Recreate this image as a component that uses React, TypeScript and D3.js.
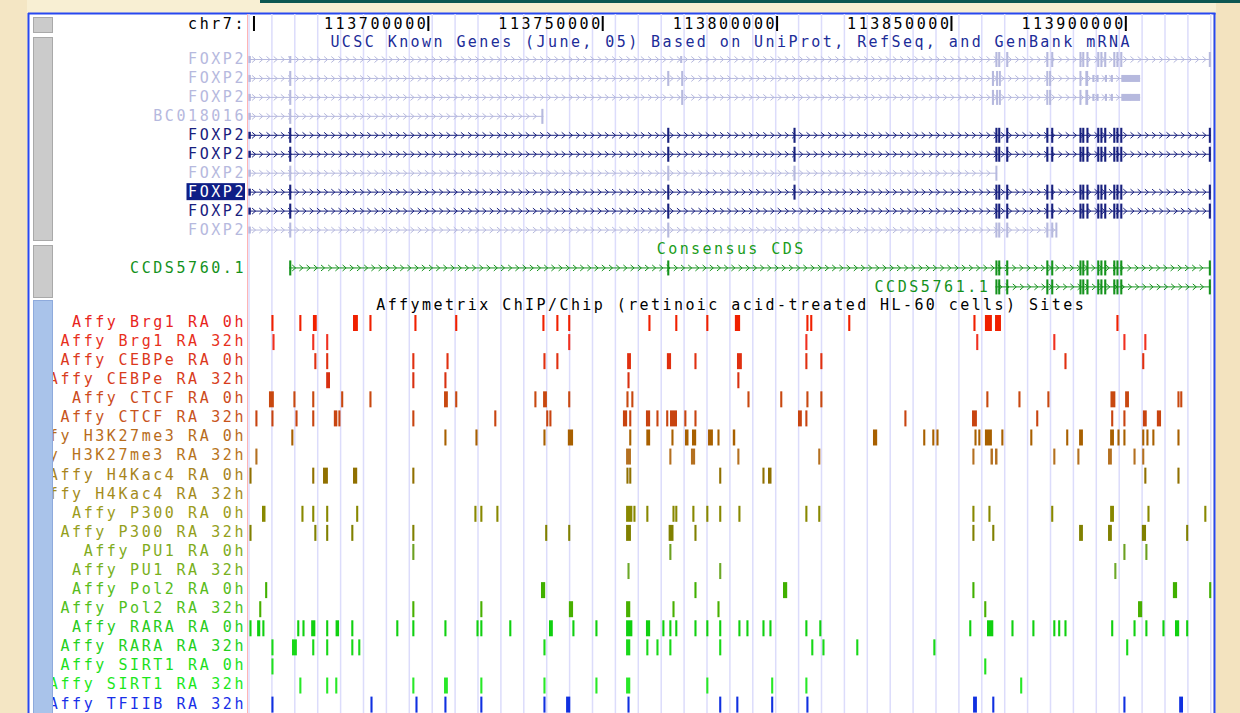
import * as d3 from 'd3';

type Span = [number, number];

// genome window (kb on chr7)
const chromName = 'chr7';
const windowKb: Span = [113648, 113925];

const geneTrackTitle = 'UCSC Known Genes (June, 05) Based on UniProt, RefSeq, and GenBank mRNA';
const ccdsTrackTitle = 'Consensus CDS';
const affyTrackTitle = 'Affymetrix ChIP/Chip (retinoic acid-treated HL-60 cells) Sites';

// FOXP2 exon pieces (kb)
const foxp2Utr5: Span = [113648.4, 113649.1];
const foxp2Ex2: Span = [113660.1, 113660.7];
const foxp2Ex3: Span = [113768.5, 113769.1];
const foxp2Ex4: Span = [113804.7, 113805.3];
const foxp2AltEx: Span = [113772.2, 113772.8];
const foxp2Cluster: Span[] = [
  [113862.6, 113863.2], [113863.4, 113864.0], [113865.7, 113866.3], [113877.2, 113877.8],
  [113878.6, 113879.2], [113886.7, 113887.3], [113887.5, 113888.1], [113888.7, 113889.3],
  [113891.8, 113892.4], [113892.7, 113893.3], [113893.8, 113894.4], [113896.4, 113897.0],
  [113897.3, 113897.9], [113898.4, 113899.0],
];
const foxp2AltCluster: Span[] = [
  [113861.6, 113862.2], [113862.8, 113863.2], [113863.6, 113864.0], [113877.2, 113877.6],
  [113878.0, 113878.4], [113886.7, 113887.1], [113888.4, 113889.2], [113890.4, 113891.0],
  [113891.6, 113892.2], [113894.0, 113894.6], [113895.7, 113896.3], [113898.7, 113904.1],
];
const foxp2LastEx: Span = [113923.8, 113924.4];

const knownGeneLabels = ['FOXP2', 'FOXP2', 'FOXP2', 'BC018016', 'FOXP2', 'FOXP2', 'FOXP2', 'FOXP2', 'FOXP2', 'FOXP2'];
const knownGeneFaded = [true, true, true, true, false, false, true, false, false, true];
const knownGeneSelected = 7;
const knownGeneTx: Span[] = [
  [113648.6, 113924.4], [113648.6, 113904.1], [113648.6, 113904.1], [113648.6, 113733.0],
  [113648.6, 113924.4], [113648.6, 113924.4], [113648.6, 113863.1], [113648.6, 113924.4],
  [113648.6, 113924.4], [113648.6, 113880.3],
];
const knownGeneCds: Span[] = [
  [113862.6, 113924.4], [113660.1, 113889.2], [113660.1, 113889.2], [113660.1, 113733.0],
  [113660.1, 113924.4], [113660.1, 113924.4], [113660.1, 113863.1], [113660.1, 113924.4],
  [113660.1, 113924.4], [113660.1, 113880.3],
];
const knownGeneExons: Span[][] = [
  [foxp2Utr5, foxp2Ex2, foxp2AltEx, ...foxp2Cluster, foxp2LastEx],
  [foxp2Utr5, foxp2Ex2, foxp2Ex3, [113772.5, 113773.0], ...foxp2AltCluster],
  [foxp2Utr5, foxp2Ex2, [113772.5, 113773.0], ...foxp2AltCluster],
  [foxp2Utr5, foxp2Ex2, [113732.4, 113733.0]],
  [foxp2Utr5, foxp2Ex2, foxp2Ex3, foxp2Ex4, ...foxp2Cluster, foxp2LastEx],
  [foxp2Utr5, foxp2Ex2, foxp2Ex3, foxp2Ex4, ...foxp2Cluster, foxp2LastEx],
  [foxp2Utr5, foxp2Ex2, foxp2Ex3, foxp2Ex4, [113862.6, 113863.1]],
  [foxp2Utr5, foxp2Ex2, foxp2Ex3, foxp2Ex4, ...foxp2Cluster, foxp2LastEx],
  [foxp2Utr5, foxp2Ex2, foxp2Ex3, ...foxp2Cluster, foxp2LastEx],
  [foxp2Utr5, foxp2Ex2, foxp2Ex3, ...foxp2Cluster.slice(0, 5), [113879.8, 113880.3]],
];

const ccdsLabels = ['CCDS5760.1', 'CCDS5761.1'];
const ccdsTx: Span[] = [[113660.1, 113924.4], [113862.6, 113924.4]];
const ccdsExons: Span[][] = [
  [foxp2Ex2, foxp2Ex3, ...foxp2Cluster, foxp2LastEx],
  [...foxp2Cluster, foxp2LastEx],
];

// Affymetrix ChIP/chip sites (kb)
const brg1Ra0h: Span[] = [[113655.0, 113655.6], [113663.0, 113663.6], [113666.9, 113668.0], [113678.4, 113679.8], [113683.1, 113683.7], [113696.0, 113696.6], [113707.7, 113708.3], [113732.7, 113733.3], [113736.7, 113737.3], [113740.1, 113740.7], [113763.1, 113763.7], [113770.8, 113771.4], [113779.7, 113780.3], [113787.9, 113789.4], [113808.4, 113809.0], [113809.5, 113810.1], [113820.4, 113821.0], [113856.3, 113856.9], [113859.6, 113861.6], [113862.5, 113864.2], [113897.3, 113897.9]];
const brg1Ra32h: Span[] = [[113655.3, 113655.9], [113666.7, 113667.3], [113670.7, 113671.3], [113740.1, 113740.7], [113808.1, 113808.7], [113857.1, 113857.7], [113879.2, 113879.8], [113899.3, 113899.9], [113905.3, 113905.9]];
const cebpeRa0h: Span[] = [[113667.3, 113667.9], [113670.7, 113671.3], [113695.4, 113696.0], [113705.2, 113705.8], [113733.0, 113733.6], [113736.7, 113737.3], [113757.0, 113758.1], [113768.4, 113769.6], [113776.3, 113776.9], [113788.5, 113789.9], [113808.1, 113808.7], [113812.4, 113813.0], [113882.4, 113883.0], [113904.7, 113905.3]];
const cebpeRa32h: Span[] = [[113670.7, 113671.8], [113695.4, 113696.0], [113704.6, 113705.2], [113757.1, 113757.7], [113788.6, 113789.2]];
const ctcfRa0h: Span[] = [[113654.3, 113655.7], [113661.3, 113661.9], [113666.7, 113667.3], [113675.0, 113675.6], [113683.1, 113683.7], [113704.5, 113705.6], [113707.7, 113708.3], [113730.4, 113731.0], [113732.9, 113734.0], [113740.1, 113740.7], [113756.8, 113757.4], [113758.2, 113758.8], [113791.5, 113792.1], [113800.9, 113801.5], [113808.4, 113809.0], [113812.4, 113813.0], [113860.0, 113860.6], [113869.2, 113869.8], [113877.5, 113878.1], [113895.6, 113897.0], [113899.8, 113900.9], [113914.8, 113915.4], [113915.6, 113916.2]];
const ctcfRa32h: Span[] = [[113650.4, 113651.0], [113655.0, 113655.6], [113661.9, 113662.5], [113666.7, 113667.3], [113672.9, 113673.9], [113674.2, 113674.8], [113695.4, 113696.0], [113718.9, 113719.5], [113733.8, 113734.4], [113734.7, 113735.3], [113755.8, 113757.0], [113757.6, 113758.2], [113762.4, 113763.6], [113765.4, 113766.0], [113768.2, 113768.8], [113769.3, 113771.3], [113773.4, 113774.0], [113776.3, 113776.9], [113806.0, 113807.1], [113808.1, 113808.7], [113836.5, 113837.1], [113855.9, 113857.3], [113874.3, 113874.9], [113895.8, 113896.4], [113899.3, 113899.9], [113904.9, 113906.0], [113908.9, 113910.1]];
const h3k27Ra0h: Span[] = [[113660.7, 113661.3], [113704.6, 113705.2], [113713.5, 113714.1], [113733.0, 113733.6], [113740.0, 113741.5], [113757.6, 113758.2], [113762.5, 113763.6], [113769.7, 113770.3], [113773.6, 113774.6], [113775.6, 113776.8], [113780.2, 113781.6], [113782.9, 113783.5], [113787.3, 113788.0], [113827.5, 113828.7], [113841.9, 113842.5], [113844.5, 113845.1], [113845.7, 113846.3], [113856.6, 113857.2], [113857.7, 113858.3], [113859.6, 113861.6], [113864.3, 113864.9], [113872.6, 113873.2], [113882.9, 113883.5], [113886.6, 113887.7], [113895.5, 113896.6], [113897.6, 113898.2], [113899.3, 113899.9], [113904.7, 113905.3], [113905.9, 113906.5], [113907.6, 113908.2], [113914.8, 113915.4]];
const h3k27Ra32h: Span[] = [[113650.4, 113651.0], [113756.7, 113758.1], [113769.1, 113769.7], [113775.3, 113776.5], [113788.6, 113789.2], [113811.8, 113812.4], [113856.0, 113856.6], [113861.2, 113861.9], [113862.5, 113863.2], [113879.2, 113879.8], [113886.1, 113886.7], [113894.9, 113896.0], [113902.2, 113902.8], [113904.7, 113905.3]];
const h4kRa0h: Span[] = [[113648.7, 113649.3], [113666.7, 113667.3], [113669.8, 113671.2], [113678.4, 113679.6], [113695.4, 113696.0], [113756.8, 113757.4], [113757.6, 113758.2], [113783.4, 113784.0], [113795.8, 113796.4], [113797.4, 113798.4], [113905.3, 113905.9], [113914.8, 113915.4]];
const h4kRa32h: Span[] = [];
const p300Ra0h: Span[] = [[113652.3, 113653.3], [113663.6, 113664.2], [113666.7, 113667.3], [113670.7, 113671.3], [113679.3, 113679.9], [113713.2, 113713.8], [113714.9, 113715.5], [113719.5, 113720.1], [113756.7, 113758.5], [113758.8, 113759.4], [113762.5, 113763.1], [113770.0, 113770.6], [113770.8, 113771.4], [113775.7, 113776.3], [113779.7, 113780.3], [113783.4, 113784.0], [113788.9, 113789.5], [113808.1, 113808.7], [113811.8, 113812.4], [113856.0, 113856.6], [113860.6, 113861.2], [113878.6, 113879.2], [113895.5, 113896.6], [113906.2, 113906.8], [113922.5, 113923.1]];
const p300Ra32h: Span[] = [[113648.7, 113649.3], [113667.3, 113667.9], [113670.7, 113671.3], [113677.9, 113678.5], [113695.4, 113696.0], [113733.5, 113734.1], [113740.1, 113740.7], [113756.7, 113758.1], [113768.9, 113770.3], [113776.3, 113776.9], [113856.0, 113856.6], [113861.7, 113862.3], [113886.6, 113887.7], [113894.9, 113896.0], [113904.6, 113905.8], [113917.3, 113917.9]];
const pu1Ra0h: Span[] = [[113695.4, 113696.0], [113769.1, 113769.7], [113899.3, 113899.9], [113905.6, 113906.2]];
const pu1Ra32h: Span[] = [[113757.1, 113757.7], [113783.4, 113784.0], [113896.7, 113897.3]];
const pol2Ra0h: Span[] = [[113653.2, 113653.8], [113732.3, 113733.5], [113776.3, 113776.9], [113801.7, 113802.9], [113856.0, 113856.6], [113913.5, 113914.7], [113923.9, 113924.5]];
const pol2Ra32h: Span[] = [[113651.5, 113652.1], [113695.4, 113696.0], [113714.9, 113715.5], [113740.3, 113741.5], [113756.7, 113757.9], [113770.0, 113770.6], [113782.9, 113783.5], [113859.4, 113860.0], [113903.5, 113904.7]];
const raraRa0h: Span[] = [[113648.7, 113649.3], [113650.9, 113651.8], [113652.4, 113653.0], [113662.4, 113663.0], [113663.9, 113664.5], [113666.4, 113667.6], [113670.7, 113671.3], [113673.4, 113674.4], [113677.9, 113678.5], [113690.8, 113691.4], [113695.4, 113696.0], [113704.6, 113705.2], [113713.8, 113714.4], [113714.9, 113715.5], [113723.2, 113723.8], [113734.6, 113735.7], [113741.3, 113741.9], [113747.9, 113748.5], [113756.7, 113758.5], [113762.4, 113763.6], [113767.1, 113767.7], [113769.1, 113769.7], [113770.8, 113771.4], [113776.3, 113776.9], [113779.7, 113780.3], [113783.4, 113784.0], [113788.9, 113789.5], [113791.2, 113791.8], [113795.8, 113796.4], [113797.8, 113798.4], [113808.1, 113808.7], [113812.1, 113812.7], [113855.1, 113855.7], [113860.2, 113862.0], [113867.2, 113867.8], [113873.2, 113873.8], [113879.2, 113879.8], [113880.6, 113881.2], [113882.4, 113883.0], [113895.8, 113896.4], [113902.2, 113902.8], [113905.6, 113906.2], [113910.5, 113911.1], [113914.1, 113915.3], [113917.3, 113917.9]];
const raraRa32h: Span[] = [[113655.0, 113655.6], [113660.9, 113662.3], [113666.7, 113667.3], [113670.7, 113671.3], [113677.9, 113678.5], [113679.9, 113680.5], [113733.0, 113733.6], [113756.7, 113757.9], [113762.5, 113763.1], [113765.4, 113766.0], [113769.1, 113769.7], [113783.4, 113784.0], [113809.8, 113810.4], [113813.0, 113813.6], [113822.7, 113823.3], [113844.8, 113845.4], [113900.1, 113900.7]];
const sirt1Ra0h: Span[] = [[113655.0, 113655.6], [113859.4, 113860.0]];
const sirt1Ra32h: Span[] = [[113663.0, 113663.6], [113670.7, 113671.3], [113673.3, 113673.9], [113695.4, 113696.0], [113704.5, 113705.6], [113714.9, 113715.5], [113733.0, 113733.6], [113747.9, 113748.5], [113756.7, 113757.9], [113779.7, 113780.3], [113798.3, 113798.9], [113808.1, 113808.7], [113869.7, 113870.3]];
const tfiibRa32h: Span[] = [[113655.0, 113655.6], [113683.4, 113684.0], [113696.3, 113696.9], [113704.6, 113705.2], [113714.9, 113715.5], [113733.0, 113733.6], [113739.5, 113740.7], [113757.1, 113757.7], [113783.4, 113784.0], [113788.3, 113788.9], [113798.3, 113798.9], [113808.4, 113809.0], [113856.2, 113857.3], [113861.7, 113862.3], [113899.3, 113899.9], [113915.3, 113916.4]];

const affyLabels = [
  'Affy Brg1 RA 0h', 'Affy Brg1 RA 32h', 'Affy CEBPe RA 0h', 'Affy CEBPe RA 32h',
  'Affy CTCF RA 0h', 'Affy CTCF RA 32h', 'Affy H3K27me3 RA 0h', 'Affy H3K27me3 RA 32h',
  'Affy H4Kac4 RA 0h', 'Affy H4Kac4 RA 32h', 'Affy P300 RA 0h', 'Affy P300 RA 32h',
  'Affy PU1 RA 0h', 'Affy PU1 RA 32h', 'Affy Pol2 RA 0h', 'Affy Pol2 RA 32h',
  'Affy RARA RA 0h', 'Affy RARA RA 32h', 'Affy SIRT1 RA 0h', 'Affy SIRT1 RA 32h',
  'Affy TFIIB RA 32h',
];
const affySites: Span[][] = [
  brg1Ra0h, brg1Ra32h, cebpeRa0h, cebpeRa32h, ctcfRa0h, ctcfRa32h, h3k27Ra0h, h3k27Ra32h,
  h4kRa0h, h4kRa32h, p300Ra0h, p300Ra32h, pu1Ra0h, pu1Ra32h, pol2Ra0h, pol2Ra32h,
  raraRa0h, raraRa32h, sirt1Ra0h, sirt1Ra32h, tfiibRa32h,
];
const affyLabelColors = [
  '#e8241c', '#e8301c', '#dc381c', '#d83c1c', '#cc4c1c', '#c8541c', '#b86c1c', '#b8741c',
  '#a8841c', '#a48c1c', '#9c9c1c', '#94a01c', '#80ac1c', '#78b01c', '#58bc1c', '#50c01c',
  '#28cc1c', '#24d01c', '#1ce01c', '#1ce81c', '#1830e8',
];
const affyBarColors = [
  '#f02000', '#f03020', '#e03010', '#d83010', '#c84810', '#c84410', '#a86000', '#b47020',
  '#907000', '#987810', '#888800', '#808000', '#6ca020', '#6ca828', '#40b000', '#48b000',
  '#10d010', '#18d818', '#20e020', '#28e828', '#1030e0',
];

const W = 1240;
const H = 713;
const dataLeft = 247;
const dataRight = 1213;
const labelLeft = 53;
const labelRight = 243;
const charW = 11.6;
const titleCharW = 11.45;
const fontFamily = '"DejaVu Sans Mono", "Liberation Mono", monospace';
const fontSize = 15;
const geneDark = '#18207e';
const geneLight = '#b6b9de';
const ccdsGreen = '#14921c';

const rowY = (r: number) => (r === 0 ? 24 : r === 1 ? 41.5 : 59 + (r - 2) * 18.95);
const affyY = (i: number) => 321.5 + i * 19.08;

function Label(props: { x: number; y: number; text: string; fill: string; anchor?: string; pitch?: number }) {
  const { x, y, text, fill, anchor = 'end', pitch = charW } = props;
  const ls = pitch - fontSize * 0.602;
  const dx = anchor === 'end' ? ls + 0.5 : anchor === 'middle' ? ls / 2 : 0;
  return (
    <text x={x + dx} y={y + 5.4} fill={fill} textAnchor={anchor} fontFamily={fontFamily}
      fontSize={fontSize} style={{ letterSpacing: `${ls}px` }}>
      {text}
    </text>
  );
}

function Transcript(props: { x: d3.ScaleLinear<number, number>; cy: number; tx: Span; cds: Span; exons: Span[]; color: string }) {
  const { x, cy, tx, cds, exons, color } = props;
  const x0 = x(tx[0]);
  const x1 = x(tx[1]);
  const chevrons = d3.range(x0 + 5, x1 - 3, 7.2);
  const pieces: { a: number; b: number; h: number }[] = [];
  exons.forEach(([s, e]) => {
    const cs = Math.max(s, cds[0]);
    const ce = Math.min(e, cds[1]);
    if (ce > cs) {
      if (cs > s) pieces.push({ a: s, b: cs, h: 7 });
      pieces.push({ a: cs, b: ce, h: 15 });
      if (e > ce) pieces.push({ a: ce, b: e, h: 7 });
    } else {
      pieces.push({ a: s, b: e, h: 7 });
    }
  });
  return (
    <g>
      <line x1={x0} x2={x1} y1={cy + 0.5} y2={cy + 0.5} stroke={color} strokeWidth={1} />
      {chevrons.map((px, i) => (
        <polyline key={i} points={`${px - 2},${cy - 2.5} ${px + 1.5},${cy + 0.5} ${px - 2},${cy + 3.5}`}
          fill="none" stroke={color} strokeWidth={1} />
      ))}
      {pieces.map((p, i) => {
        const a = x(p.a);
        const w = Math.max(2, x(p.b) - a);
        return <rect key={i} x={a} y={cy - p.h / 2 + 0.5} width={w} height={p.h} fill={color} />;
      })}
    </g>
  );
}

export default function App() {
  const x = d3.scaleLinear().domain(windowKb).range([dataLeft, dataRight]);
  const ticks = d3.ticks(windowKb[0], windowKb[1], 5);
  const gridPx = d3.range(249, dataRight, 22.9);
  const midX = (dataLeft + dataRight) / 2;

  return (
    <div>
      <style>{'body{margin:0;background:#f6ebcc;}'}</style>
      <svg width={W} height={H} style={{ display: 'block' }}>
        <defs>
          <clipPath id="labelClip">
            <rect x={labelLeft} y={0} width={dataLeft - labelLeft} height={H} />
          </clipPath>
          <clipPath id="dataClip">
            <rect x={dataLeft} y={14} width={dataRight - dataLeft} height={H} />
          </clipPath>
        </defs>
        <rect x={0} y={0} width={W} height={H} fill="#f8efd3" />
        <rect x={0} y={0} width={27} height={H} fill="#f4e6c4" />
        <rect x={1216} y={0} width={24} height={H} fill="#f3e3bf" />
        <rect x={260} y={0} width={W - 260} height={3} fill="#0d5752" />

        {/* browser image frame */}
        <rect x={29} y={14} width={dataRight - 29} height={H} fill="#ffffff" />
        <line x1={28.5} x2={28.5} y1={13} y2={H} stroke="#2848f0" strokeWidth={2} />
        <line x1={28} x2={1215.5} y1={13.5} y2={13.5} stroke="#2848f0" strokeWidth={2} />
        <line x1={1214.5} x2={1214.5} y1={13} y2={H} stroke="#2848f0" strokeWidth={2} />

        {/* side buttons */}
        <rect x={33.5} y={17.5} width={19} height={15} fill="#cbcbcb" stroke="#a9a9a9" />
        <rect x={33.5} y={37.5} width={19} height={203} fill="#cbcbcb" stroke="#a9a9a9" />
        <rect x={33.5} y={245.5} width={19} height={52} fill="#cbcbcb" stroke="#a9a9a9" />
        <rect x={33.5} y={300.5} width={19} height={H} fill="#a9c3ea" stroke="#8eaadc" />

        {/* guidelines */}
        <g clipPath="url(#dataClip)">
          {gridPx.map((px, i) => (
            <line key={i} x1={px} x2={px} y1={14} y2={H} stroke="#dcdcfb" strokeWidth={1.5} />
          ))}
        </g>
        <line x1={dataLeft + 0.5} x2={dataLeft + 0.5} y1={14} y2={H} stroke="#ffb4b4" strokeWidth={1} />

        {/* ruler */}
        <Label x={labelRight} y={rowY(0)} text={`${chromName}:`} fill="#000" />
        {ticks.map((t) => {
          const tx = x(t);
          const lbl = d3.format('d')(t * 1000);
          const fits = tx - lbl.length * charW > dataLeft;
          return (
            <g key={t}>
              <rect x={tx - 1} y={16} width={2} height={15} fill="#000" />
              {fits && <Label x={tx - 3} y={rowY(0)} text={lbl} fill="#000" />}
            </g>
          );
        })}

        {/* known genes */}
        <Label x={midX} y={rowY(1)} text={geneTrackTitle} fill="#1c2c98" anchor="middle" pitch={titleCharW} />
        {knownGeneLabels.map((name, i) => {
          const cy = rowY(2 + i);
          const color = knownGeneFaded[i] ? geneLight : geneDark;
          const selected = i === knownGeneSelected;
          return (
            <g key={`kg${i}`}>
              {selected && (
                <rect x={labelRight - name.length * charW + 1.5} y={cy - 8.5} width={name.length * charW + 0.5} height={17} fill="#0f1e86" />
              )}
              <g clipPath="url(#labelClip)">
                <Label x={labelRight} y={cy} text={name} fill={selected ? '#ffffff' : color} />
              </g>
              <Transcript x={x} cy={cy} tx={knownGeneTx[i]} cds={knownGeneCds[i]}
                exons={knownGeneExons[i]} color={color} />
            </g>
          );
        })}

        {/* consensus CDS */}
        <Label x={midX} y={rowY(12)} text={ccdsTrackTitle} fill="#1a9c1a" anchor="middle" pitch={titleCharW} />
        {ccdsLabels.map((name, i) => {
          const cy = rowY(13 + i);
          const inside = x(ccdsTx[i][0]) - name.length * charW > dataLeft + 20;
          return (
            <g key={`cc${i}`}>
              {inside ? (
                <Label x={x(ccdsTx[i][0]) - 8} y={cy} text={name} fill={ccdsGreen} />
              ) : (
                <g clipPath="url(#labelClip)">
                  <Label x={labelRight} y={cy} text={name} fill={ccdsGreen} />
                </g>
              )}
              <Transcript x={x} cy={cy} tx={ccdsTx[i]} cds={ccdsTx[i]} exons={ccdsExons[i]} color={ccdsGreen} />
            </g>
          );
        })}

        {/* affymetrix sites */}
        <Label x={midX} y={rowY(15) - 1} text={affyTrackTitle} fill="#000" anchor="middle" pitch={titleCharW} />
        {affyLabels.map((name, i) => {
          const cy = affyY(i);
          return (
            <g key={`af${i}`}>
              <g clipPath="url(#labelClip)">
                <Label x={labelRight} y={cy} text={name} fill={affyLabelColors[i]} />
              </g>
              {affySites[i].map(([s, e], j) => (
                <rect key={j} x={x(s)} y={cy - 6.5} width={Math.max(2, x(e) - x(s))} height={16}
                  fill={affyBarColors[i]} />
              ))}
            </g>
          );
        })}
      </svg>
    </div>
  );
}
